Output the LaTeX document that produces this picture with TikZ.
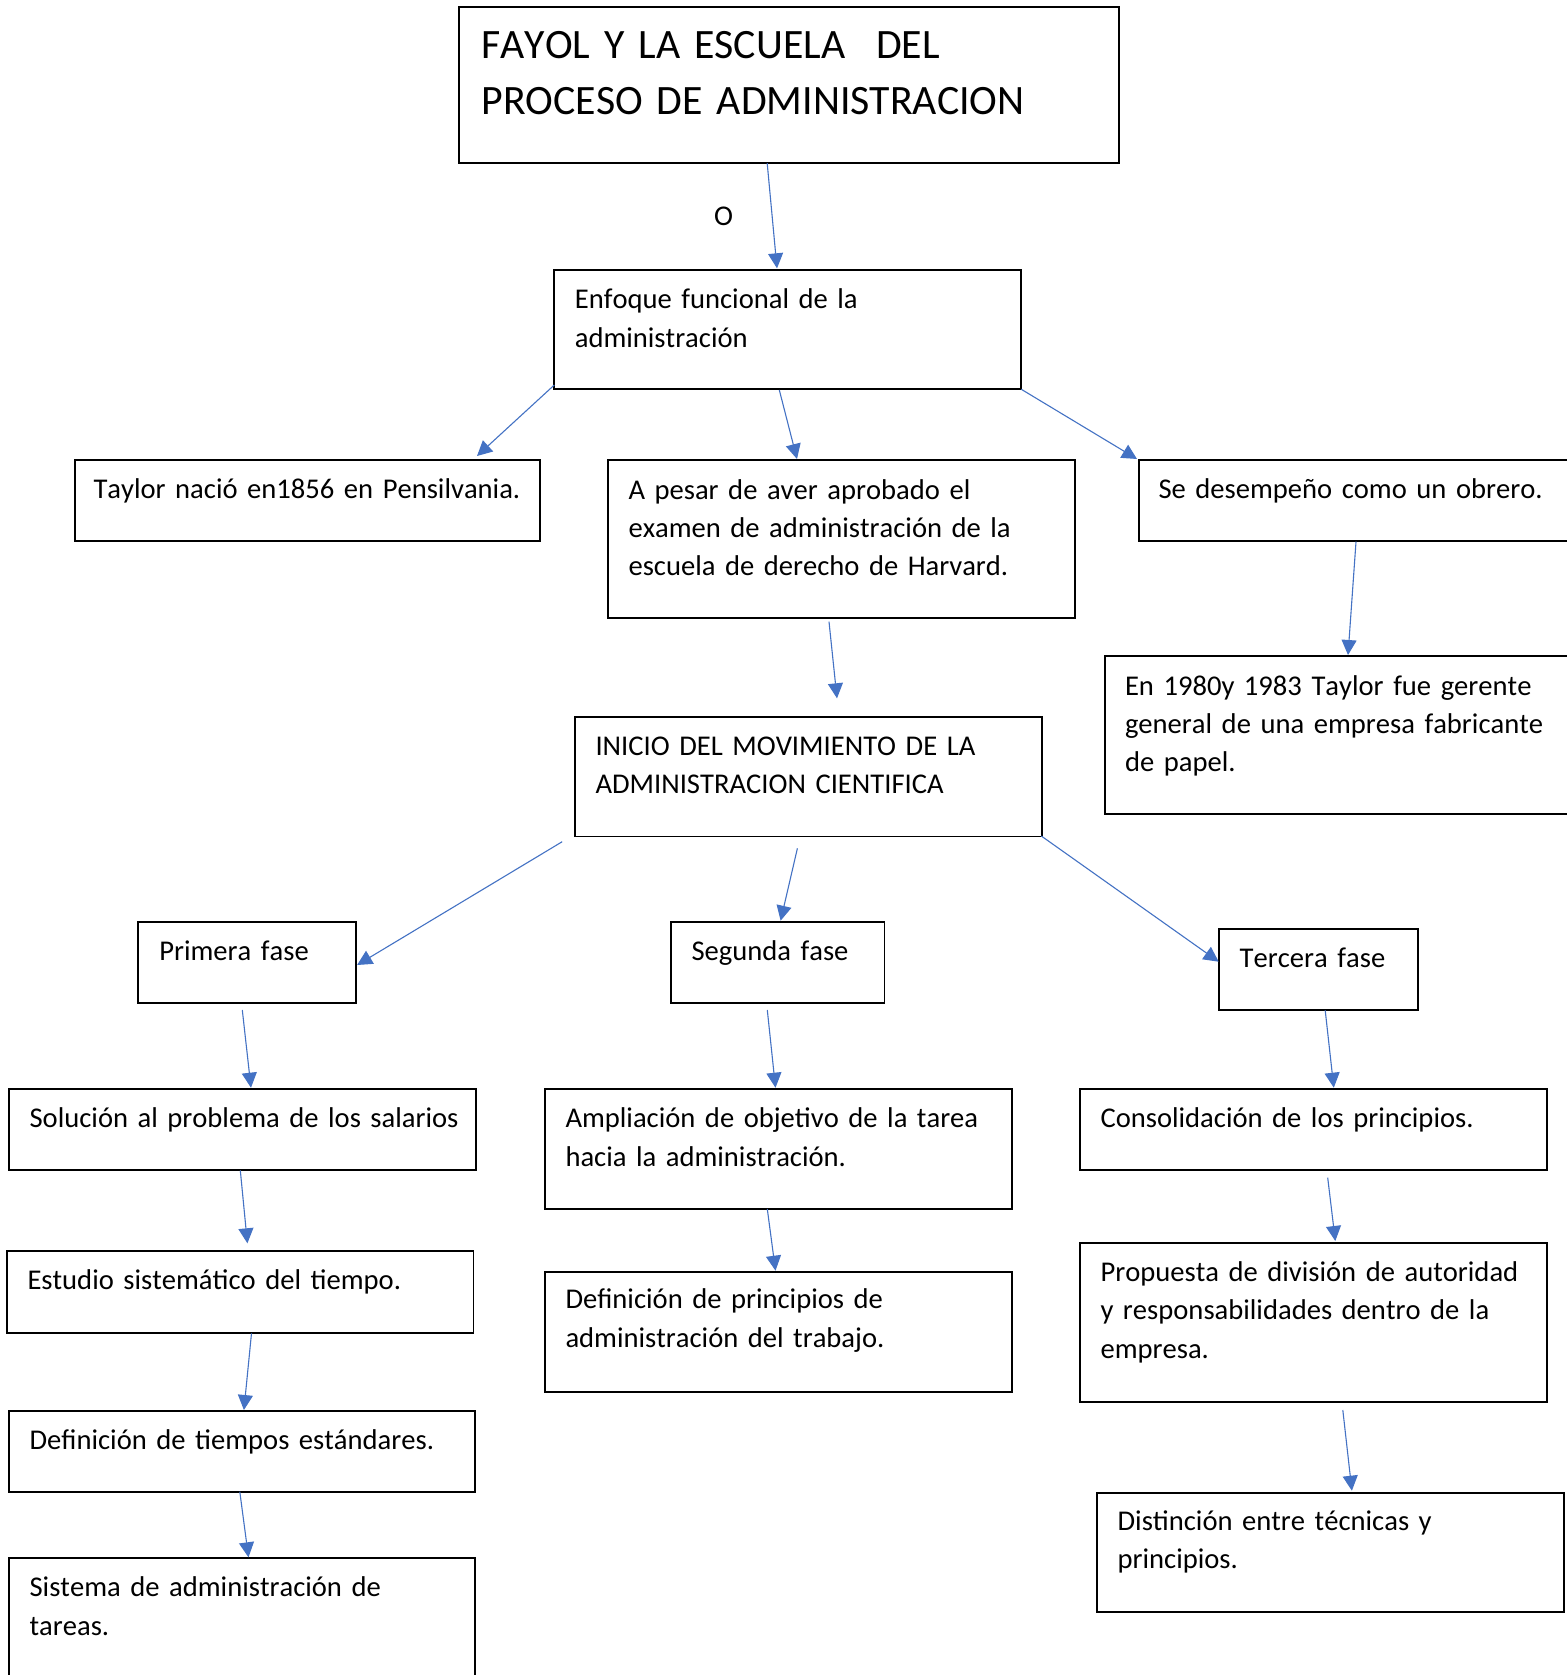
\documentclass[tikz,border=0pt]{standalone}
\usepackage{fontspec}
\setmainfont{Carlito}[Kerning=Off]
\usetikzlibrary{arrows.meta}
\definecolor{linkblue}{HTML}{4472C4}
\newcommand{\bodyfont}{\fontsize{14.3pt}{19.15pt}\selectfont\spaceskip=0.195em\relax}
\newcommand{\headfont}{\fontsize{20.9pt}{28pt}\selectfont\spaceskip=0.195em\relax}
\tikzset{
  box/.style={draw=black, line width=0.9pt, rectangle, inner sep=0pt, outer sep=0pt, anchor=north west},
  txt/.style={anchor=base west, inner sep=0pt, outer sep=0pt, align=left, text width=245pt, font=\bodyfont},
  titletxt/.style={anchor=base west, inner sep=0pt, outer sep=0pt, align=left, text width=320pt, font=\headfont},
  arr/.style={draw=linkblue, line width=0.55pt, -{Triangle[length=7.5pt,width=7.5pt]}, color=linkblue},
}
\begin{document}
\begin{tikzpicture}[x=0.5pt, y=-0.5pt]
\clip (0,0) rectangle (1567,1675);
\fill[white] (0,0) rectangle (1567,1675);

% title
\node[box, minimum width=329.9pt, minimum height=77.7pt] (title) at (459.2,7.3) {};
\node[titletxt] (title-t) at ([shift={(22.3,51)}]title.north west)
  {FAYOL Y LA ESCUELA\hspace{15.5pt}DEL\\PROCESO DE ADMINISTRACION};
\node[anchor=base, inner sep=0pt, font=\bodyfont] (olabel) at (723.5,225) {O};

% first level
\node[box, minimum width=233.5pt, minimum height=59.65pt] (enfoque) at (554.3,270) {};
\node[txt] (enfoque-t) at ([shift={(20.5,38.7)}]enfoque.north west)
  {Enfoque funcional de la\\administración};

\node[box, minimum width=232.5pt, minimum height=40.35pt] (taylor) at (75,460) {};
\node[txt] (taylor-t) at ([shift={(18.5,38.5)}]taylor.north west)
  {Taylor nació en1856 en Pensilvania.};

\node[box, minimum width=233.5pt, minimum height=79pt] (apesar) at (608,460) {};
\node[txt] (apesar-t) at ([shift={(20.5,39)}]apesar.north west)
  {A pesar de aver aprobado el\\examen de administración de la\\escuela de derecho de Harvard.};

\node[box, minimum width=230.5pt, minimum height=40.35pt] (obrero) at (1139,460) {};
\node[txt] (obrero-t) at ([shift={(19.5,38.5)}]obrero.north west)
  {Se desempeño como un obrero.};

\node[box, minimum width=247.5pt, minimum height=79.15pt] (gerente) at (1105,656) {};
\node[txt] (gerente-t) at ([shift={(20,39)}]gerente.north west)
  {En 1980y 1983 Taylor fue gerente\\general de una empresa fabricante\\de papel.};

\node[box, minimum width=233.5pt, minimum height=59.9pt] (inicio) at (575,716.7) {};
\node[txt] (inicio-t) at ([shift={(20.5,38.5)}]inicio.north west)
  {INICIO DEL MOVIMIENTO DE LA\\ADMINISTRACION CIENTIFICA};

% phases
\node[box, minimum width=108.9pt, minimum height=40.8pt] (primera) at (137.8,921.7) {};
\node[txt] (primera-t) at ([shift={(21.5,39)}]primera.north west) {Primera fase};

\node[box, minimum width=106.75pt, minimum height=40.8pt] (segunda) at (671,921.7) {};
\node[txt] (segunda-t) at ([shift={(20.5,39)}]segunda.north west) {Segunda fase};

\node[box, minimum width=99.75pt, minimum height=40.65pt] (tercera) at (1218.7,929) {};
\node[txt] (tercera-t) at ([shift={(21,38.7)}]tercera.north west) {Tercera fase};

% first phase column
\node[box, minimum width=233.65pt, minimum height=40.65pt] (solucion) at (8.7,1089) {};
\node[txt] (solucion-t) at ([shift={(20.9,38.7)}]solucion.north west)
  {Solución al problema de los salarios};

\node[box, minimum width=233.45pt, minimum height=41.15pt] (estudio) at (6.6,1251) {};
\node[txt] (estudio-t) at ([shift={(20.9,38.7)}]estudio.north west)
  {Estudio sistemático del tiempo.};

\node[box, minimum width=233.15pt, minimum height=40.5pt] (tiempos) at (8.7,1410.7) {};
\node[txt] (tiempos-t) at ([shift={(20.9,38.7)}]tiempos.north west)
  {Definición de tiempos estándares.};

\node[box, minimum width=233.15pt, minimum height=71pt] (sistema) at (8.7,1558) {};
\node[txt] (sistema-t) at ([shift={(20.9,38.7)}]sistema.north west)
  {Sistema de administración de\\tareas.};

% second phase column
\node[box, minimum width=233.6pt, minimum height=60pt] (ampliacion) at (545,1089) {};
\node[txt] (ampliacion-t) at ([shift={(20.5,38.7)}]ampliacion.north west)
  {Ampliación de objetivo de la tarea\\hacia la administración.};

\node[box, minimum width=233.6pt, minimum height=60pt] (principios) at (545,1271.7) {};
\node[txt] (principios-t) at ([shift={(20.5,37)}]principios.north west)
  {Definición de principios de\\administración del trabajo.};

% third phase column
\node[box, minimum width=233.65pt, minimum height=40.65pt] (consolidacion) at (1080,1089) {};
\node[txt] (consolidacion-t) at ([shift={(20.5,38.7)}]consolidacion.north west)
  {Consolidación de los principios.};

\node[box, minimum width=233.65pt, minimum height=79.5pt] (propuesta) at (1080,1243.3) {};
\node[txt] (propuesta-t) at ([shift={(20.5,38.2)}]propuesta.north west)
  {Propuesta de división de autoridad\\y responsabilidades dentro de la\\empresa.};

\node[box, minimum width=233.65pt, minimum height=59.8pt] (distincion) at (1096.6,1492.7) {};
\node[txt] (distincion-t) at ([shift={(21,37.5)}]distincion.north west)
  {Distinción entre técnicas y\\principios.};

% connectors
\draw[arr] ([shift={(308,156)}]title.north west) -- ([shift={(222.7,-1.7)}]enfoque.north west);
\draw[arr] ([shift={(0,115)}]enfoque.north west) -- ([shift={(402,-4)}]taylor.north west);
\draw[arr] ([shift={(225,120)}]enfoque.north west) -- ([shift={(189,-1)}]apesar.north west);
\draw[arr] ([shift={(467,119.3)}]enfoque.north west) -- ([shift={(-2,-1)}]obrero.north west);
\draw[arr] ([shift={(221,161.7)}]apesar.north west) -- ([shift={(262,-18.4)}]inicio.north west);
\draw[arr] ([shift={(217,81.7)}]obrero.north west) -- ([shift={(243,-1)}]gerente.north west);
\draw[arr] ([shift={(-12.8,125)}]inicio.north west) -- ([shift={(219.3,43.3)}]primera.north west);
\draw[arr] ([shift={(222.4,131.6)}]inicio.north west) -- ([shift={(109.6,-1)}]segunda.north west);
\draw[arr] ([shift={(466.3,119.3)}]inicio.north west) -- ([shift={(0,32.7)}]tercera.north west);
\draw[arr] ([shift={(104.5,88.3)}]primera.north west) -- ([shift={(242.3,-1.3)}]solucion.north west);
\draw[arr] ([shift={(96.3,88.3)}]segunda.north west) -- ([shift={(230.5,-1.3)}]ampliacion.north west);
\draw[arr] ([shift={(106.5,81.3)}]tercera.north west) -- ([shift={(253.8,-1.3)}]consolidacion.north west);
\draw[arr] ([shift={(231.6,81.3)}]solucion.north west) -- ([shift={(240.8,-7.7)}]estudio.north west);
\draw[arr] ([shift={(222.3,120)}]ampliacion.north west) -- ([shift={(230.5,-1)}]principios.north west);
\draw[arr] ([shift={(247.7,88.7)}]consolidacion.north west) -- ([shift={(255.3,-2.3)}]propuesta.north west);
\draw[arr] ([shift={(244.9,82.3)}]estudio.north west) -- ([shift={(235.2,-0.7)}]tiempos.north west);
\draw[arr] ([shift={(262.8,166.7)}]propuesta.north west) -- ([shift={(255.3,-2)}]distincion.north west);
\draw[arr] ([shift={(231.1,81)}]tiempos.north west) -- ([shift={(239.8,-0.7)}]sistema.north west);
\end{tikzpicture}
\end{document}
